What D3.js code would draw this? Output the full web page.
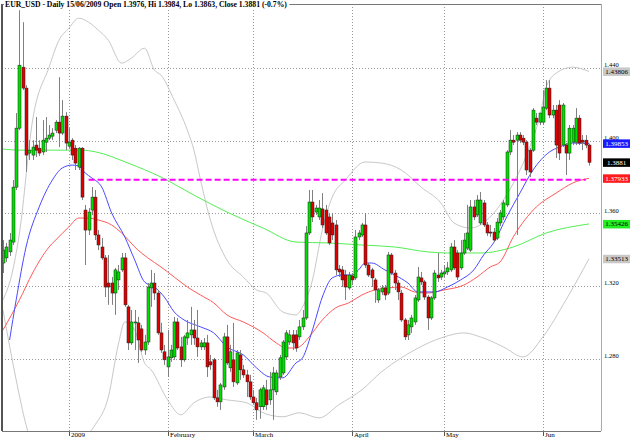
<!DOCTYPE html>
<html><head><meta charset="utf-8">
<script src="https://cdn.jsdelivr.net/npm/d3@7"></script>
<style>body{margin:0;background:#fff}svg{display:block}</style>
</head><body><svg id="c" width="632" height="438"></svg>
<script>
const opens=[1.3328,1.3356,1.3389,1.3443,1.3745,1.4069,1.4404,1.4289,1.3932,1.3921,1.3976,1.3959,1.3938,1.3992,1.4014,1.4025,1.4058,1.4102,1.4042,1.4135,1.3970,1.4003,1.3959,1.3855,1.3959,1.3619,1.3509,1.3619,1.3690,1.3482,1.3416,1.3356,1.3218,1.3218,1.3163,1.3235,1.3290,1.3356,1.3087,1.2889,1.2999,1.2999,1.2966,1.2850,1.2894,1.3191,1.3218,1.3163,1.2944,1.2840,1.2757,1.2807,1.2812,1.3004,1.2867,1.2796,1.2916,1.2933,1.2960,1.2916,1.2867,1.2867,1.2889,1.2785,1.2796,1.2587,1.2565,1.2647,1.2922,1.2752,1.2796,1.2669,1.2823,1.2741,1.2713,1.2675,1.2592,1.2560,1.2538,1.2538,1.2631,1.2576,1.2631,1.2620,1.2702,1.2724,1.2812,1.2894,1.2933,1.2933,1.2922,1.2977,1.3026,1.3493,1.3663,1.3608,1.3581,1.3625,1.3619,1.3581,1.3548,1.3537,1.3295,1.3290,1.3262,1.3191,1.3257,1.3246,1.3471,1.3482,1.3537,1.3317,1.3290,1.3235,1.3125,1.3169,1.3191,1.3163,1.3372,1.3273,1.3218,1.3163,1.3015,1.2933,1.2977,1.3004,1.3125,1.3246,1.3224,1.3141,1.3026,1.3136,1.3262,1.3251,1.3268,1.3279,1.3290,1.3416,1.3383,1.3301,1.3383,1.3410,1.3399,1.3636,1.3592,1.3548,1.3658,1.3537,1.3498,1.3498,1.3465,1.3548,1.3581,1.3647,1.3938,1.4003,1.4003,1.4031,1.4014,1.3992,1.3948,1.3948,1.4124,1.4102,1.4102,1.4179,1.4289,1.4141,1.4168,1.4196,1.3976,1.3976,1.3932,1.3992,1.3992,1.4124,1.4003,1.4003,1.3976];
const highs=[1.3454,1.3438,1.3493,1.3784,1.4152,1.4717,1.4651,1.4305,1.4003,1.4003,1.4130,1.4003,1.4113,1.4130,1.4086,1.4069,1.4113,1.4349,1.4223,1.4157,1.4069,1.4014,1.3976,1.3965,1.3965,1.3647,1.3630,1.3745,1.3729,1.3509,1.3465,1.3372,1.3372,1.3251,1.3301,1.3317,1.3383,1.3383,1.3098,1.3070,1.3070,1.3032,1.2988,1.2933,1.3218,1.3290,1.3273,1.3180,1.2999,1.2878,1.2960,1.2878,1.3032,1.3026,1.2922,1.2933,1.3015,1.3087,1.3015,1.3070,1.2905,1.2916,1.2933,1.2823,1.2807,1.2631,1.2669,1.2944,1.2988,1.2878,1.2999,1.2850,1.2850,1.2768,1.2741,1.2713,1.2631,1.2587,1.2642,1.2658,1.2686,1.2730,1.2757,1.2741,1.2823,1.2905,1.2960,1.2960,1.2960,1.2960,1.3015,1.3070,1.3531,1.3729,1.3729,1.3647,1.3674,1.3712,1.3647,1.3603,1.3603,1.3564,1.3317,1.3312,1.3290,1.3279,1.3273,1.3509,1.3509,1.3548,1.3603,1.3328,1.3301,1.3246,1.3191,1.3207,1.3207,1.3389,1.3383,1.3290,1.3235,1.3180,1.3026,1.3015,1.3043,1.3152,1.3306,1.3279,1.3235,1.3152,1.3147,1.3290,1.3383,1.3290,1.3317,1.3334,1.3438,1.3454,1.3399,1.3454,1.3493,1.3647,1.3674,1.3674,1.3701,1.3718,1.3674,1.3553,1.3537,1.3520,1.3575,1.3619,1.3674,1.3948,1.4058,1.4031,1.4047,1.4047,1.4031,1.4003,1.3959,1.4179,1.4152,1.4152,1.4278,1.4333,1.4333,1.4196,1.4196,1.4223,1.4207,1.3987,1.4086,1.4086,1.4179,1.4141,1.4031,1.4031,1.3984];
const lows=[1.3273,1.3334,1.3367,1.3427,1.3729,1.4058,1.4278,1.3828,1.3894,1.3894,1.3910,1.3916,1.3921,1.3938,1.4003,1.4003,1.4042,1.3965,1.4031,1.3948,1.3959,1.3894,1.3839,1.3839,1.3674,1.3317,1.3482,1.3592,1.3454,1.3399,1.3345,1.3141,1.3098,1.3098,1.3043,1.3180,1.3279,1.3087,1.2850,1.2878,1.2850,1.2779,1.2840,1.2823,1.2878,1.3087,1.3125,1.2933,1.2834,1.2768,1.2702,1.2785,1.2796,1.2850,1.2757,1.2785,1.2878,1.2878,1.2878,1.2812,1.2850,1.2850,1.2702,1.2741,1.2576,1.2538,1.2521,1.2631,1.2768,1.2730,1.2647,1.2658,1.2686,1.2697,1.2592,1.2576,1.2549,1.2466,1.2472,1.2521,1.2521,1.2549,1.2466,1.2603,1.2686,1.2713,1.2796,1.2878,1.2850,1.2840,1.2905,1.2960,1.3015,1.3482,1.3553,1.3592,1.3564,1.3520,1.3482,1.3427,1.3454,1.3262,1.3251,1.3196,1.3125,1.3180,1.3207,1.3235,1.3454,1.3471,1.3301,1.3251,1.3196,1.3109,1.3109,1.3152,1.3125,1.3152,1.3262,1.3180,1.3125,1.3004,1.2905,1.2905,1.2944,1.2988,1.3114,1.3207,1.3125,1.2960,1.3015,1.3125,1.3224,1.3235,1.3251,1.3262,1.3279,1.3290,1.3235,1.3290,1.3372,1.3399,1.3389,1.3564,1.3581,1.3537,1.3526,1.3476,1.3471,1.3443,1.3454,1.3531,1.3564,1.3636,1.3921,1.3976,1.3482,1.3987,1.3976,1.3811,1.3800,1.3938,1.4086,1.4086,1.4086,1.4168,1.4124,1.4124,1.3905,1.3894,1.3965,1.3811,1.3894,1.3976,1.3976,1.3976,1.3948,1.3959,1.3863];
const closes=[1.3399,1.3416,1.3454,1.3745,1.4069,1.4415,1.4289,1.3921,1.3948,1.3965,1.3948,1.3932,1.4003,1.4014,1.4031,1.4042,1.4102,1.4042,1.4135,1.3987,1.3992,1.3921,1.3877,1.3959,1.3690,1.3509,1.3608,1.3690,1.3482,1.3427,1.3356,1.3196,1.3196,1.3163,1.3290,1.3279,1.3356,1.3098,1.2889,1.3004,1.3004,1.2905,1.2850,1.2894,1.3196,1.3218,1.3163,1.2944,1.2850,1.2796,1.2812,1.2850,1.3004,1.2861,1.2796,1.2922,1.2944,1.2960,1.2916,1.2867,1.2889,1.2889,1.2757,1.2768,1.2587,1.2565,1.2658,1.2922,1.2779,1.2840,1.2675,1.2834,1.2741,1.2713,1.2675,1.2592,1.2560,1.2521,1.2631,1.2642,1.2549,1.2631,1.2724,1.2724,1.2807,1.2894,1.2944,1.2933,1.2889,1.2861,1.2977,1.3026,1.3493,1.3663,1.3581,1.3630,1.3630,1.3537,1.3493,1.3438,1.3482,1.3290,1.3279,1.3235,1.3196,1.3262,1.3235,1.3471,1.3493,1.3537,1.3317,1.3262,1.3246,1.3180,1.3180,1.3191,1.3152,1.3372,1.3273,1.3218,1.3169,1.3015,1.2922,1.2988,1.3026,1.3136,1.3251,1.3224,1.3141,1.3026,1.3136,1.3273,1.3246,1.3273,1.3279,1.3301,1.3416,1.3301,1.3251,1.3383,1.3454,1.3493,1.3636,1.3581,1.3674,1.3674,1.3537,1.3493,1.3493,1.3454,1.3553,1.3603,1.3658,1.3938,1.4003,1.3992,1.4031,1.4003,1.3992,1.3839,1.3828,1.4168,1.4102,1.4152,1.4185,1.4289,1.4141,1.4168,1.3976,1.3932,1.4196,1.3932,1.4069,1.4069,1.4124,1.3987,1.3992,1.3976,1.3881];

const monthLabels=["2009","February","March","April","May","Jun"];
const monthIndex=[20,50,76,106,134,164];
const priceTicks=[1.280,1.320,1.360,1.400,1.440];

// indicator lines: [bar index, value]
const maFast=[[2,1.2905],[4,1.3125],[7,1.3416],[11,1.3636],[15,1.3784],[18,1.3850],[21,1.3866],[23,1.3861],[25,1.3822],[27,1.3795],[30,1.3745],[33,1.3603],[37,1.3471],[40,1.3345],[43,1.3224],[46,1.3196],[49,1.3141],[52,1.3059],[55,1.3015],[60,1.2977],[64,1.2944],[68,1.2867],[73,1.2823],[77,1.2752],[81,1.2702],[85,1.2697],[89,1.2779],[91,1.2807],[94,1.2960],[97,1.3141],[100,1.3246],[103,1.3262],[106,1.3262],[108,1.3290],[110,1.3328],[112,1.3328],[116,1.3290],[119,1.3262],[123,1.3218],[126,1.3169],[131,1.3169],[135,1.3196],[139,1.3235],[143,1.3290],[146,1.3372],[149,1.3438],[153,1.3581],[157,1.3712],[161,1.3839],[166,1.3938],[169,1.3965],[173,1.3987],[178,1.39853]];
const maMid=[[0,1.2960],[5,1.3125],[9,1.3273],[14,1.3416],[16,1.3454],[20,1.3526],[23,1.3575],[26,1.3575],[29,1.3564],[33,1.3537],[36,1.3493],[41,1.3399],[44,1.3356],[48,1.3306],[52,1.3251],[56,1.3196],[60,1.3152],[64,1.3109],[68,1.3043],[73,1.3004],[76,1.2977],[79,1.2944],[83,1.2889],[86,1.2861],[89,1.2861],[90,1.2867],[93,1.2922],[97,1.3015],[101,1.3081],[105,1.3109],[109,1.3152],[113,1.3180],[117,1.3191],[121,1.3196],[125,1.3169],[129,1.3163],[134,1.3180],[140,1.3207],[144,1.3251],[148,1.3306],[151,1.3334],[155,1.3471],[162,1.3636],[168,1.3712],[173,1.3767],[178,1.37933]];
const maSlow=[[0,1.3954],[5,1.3948],[14,1.3948],[24,1.3948],[28,1.3939],[38,1.3877],[48,1.3800],[58,1.3701],[68,1.3608],[79,1.3520],[89,1.3443],[99,1.3438],[109,1.3427],[119,1.3416],[129,1.3389],[135,1.3383],[145,1.3383],[155,1.3416],[165,1.3493],[178,1.35426]];
const bbUpper=[[0,1.3125],[3,1.3290],[5,1.3493],[9,1.4113],[14,1.4404],[17,1.4552],[20,1.4618],[23,1.4673],[26,1.4651],[29,1.4607],[32,1.4552],[36,1.4426],[39,1.4454],[43,1.4508],[46,1.4388],[48,1.4360],[52,1.4223],[56,1.4058],[58,1.3948],[60,1.3784],[63,1.3564],[68,1.3345],[73,1.3251],[77,1.3180],[80,1.3163],[85,1.3059],[89,1.3043],[91,1.3087],[94,1.3235],[97,1.3509],[100,1.3690],[104,1.3784],[110,1.3883],[115,1.3877],[121,1.3839],[127,1.3745],[133,1.3658],[137,1.3548],[142,1.3520],[147,1.3564],[152,1.3674],[156,1.3800],[160,1.3965],[163,1.4130],[165,1.4294],[168,1.4371],[173,1.4404],[178,1.43806]];
const bbLower=[[0,1.3070],[4,1.2686],[7,1.2439],[11,1.2247],[17,1.2302],[24,1.2356],[28,1.2439],[32,1.2592],[35,1.2878],[37,1.3004],[40,1.2960],[43,1.2779],[45,1.2741],[50,1.2576],[54,1.2494],[58,1.2560],[63,1.2592],[68,1.2576],[74,1.2560],[79,1.2505],[85,1.2483],[90,1.2505],[96,1.2477],[102,1.2549],[109,1.2631],[115,1.2730],[121,1.2807],[125,1.2850],[134,1.2922],[140,1.2944],[145,1.2922],[152,1.2867],[158,1.2812],[164,1.2922],[171,1.3125],[178,1.33513]];
const levelValue=1.3785, levelFrom=26, levelTo=177;

const lastLabels=[
  {v:1.43806,t:"1.43806",bg:"#c8c8c8",fg:"#000"},
  {v:1.39853,t:"1.39853",bg:"#1a1aff",fg:"#fff"},
  {v:1.3881,t:"1.3881",bg:"#000",fg:"#fff"},
  {v:1.37933,t:"1.37933",bg:"#ff1a1a",fg:"#fff"},
  {v:1.35426,t:"1.35426",bg:"#22ee22",fg:"#000"},
  {v:1.33513,t:"1.33513",bg:"#c8c8c8",fg:"#000"}
];

const svg=d3.select("#c");
const P={l:2,r:601,t:4,b:431};
const N=closes.length;
const x=d3.scaleLinear().domain([0,N-1]).range([3,589]);
const y=d3.scaleLinear().domain([1.28,1.44]).range([359.1,67.9]);

svg.append("defs").append("clipPath").attr("id","clip").append("rect")
  .attr("x",P.l).attr("y",P.t).attr("width",P.r-P.l).attr("height",P.b-P.t);

// grid
const g=svg.append("g");
g.selectAll(".hg").data(priceTicks).join("line")
  .attr("x1",P.l).attr("x2",P.r).attr("y1",d=>Math.round(y(d))+0.5).attr("y2",d=>Math.round(y(d))+0.5)
  .attr("stroke","#999").attr("stroke-dasharray","1,2");
g.selectAll(".vg").data(monthIndex).join("line")
  .attr("x1",d=>Math.round(x(d))+0.5).attr("x2",d=>Math.round(x(d))+0.5).attr("y1",P.t).attr("y2",P.b)
  .attr("stroke","#999").attr("stroke-dasharray","1,2");

const plot=svg.append("g").attr("clip-path","url(#clip)");
const line=d3.line().x(d=>x(d[0])).y(d=>y(d[1])).curve(d3.curveMonotoneX);
plot.append("path").attr("d",line(bbUpper)).attr("fill","none").attr("stroke","#c8c8c8").attr("stroke-width",1);
plot.append("path").attr("d",line(bbLower)).attr("fill","none").attr("stroke","#c8c8c8").attr("stroke-width",1);
plot.append("path").attr("d",line(maSlow)).attr("fill","none").attr("stroke","#55ee55").attr("stroke-width",1);
plot.append("path").attr("d",line(maMid)).attr("fill","none").attr("stroke","#ff5a5a").attr("stroke-width",1);
plot.append("path").attr("d",line(maFast)).attr("fill","none").attr("stroke","#4a4aff").attr("stroke-width",1);

// candles
const idx=d3.range(N);
plot.selectAll(".wick").data(idx).join("line")
  .attr("x1",i=>Math.round(x(i))+0.5).attr("x2",i=>Math.round(x(i))+0.5)
  .attr("y1",i=>y(highs[i])).attr("y2",i=>y(lows[i]))
  .attr("stroke","#808080").attr("stroke-width",1);
plot.selectAll(".body").data(idx).join("rect")
  .attr("x",i=>Math.round(x(i))-1)
  .attr("width",3)
  .attr("y",i=>y(Math.max(opens[i],closes[i])))
  .attr("height",i=>Math.max(1,Math.abs(y(opens[i])-y(closes[i]))))
  .attr("fill",i=>closes[i]>=opens[i]?"#00e000":"#e00000")
  .attr("stroke","#222").attr("stroke-width",0.5);

// level line
plot.append("line").attr("x1",x(levelFrom)).attr("x2",x(levelTo))
  .attr("y1",y(levelValue)).attr("y2",y(levelValue))
  .attr("stroke","#ff00ff").attr("stroke-width",2).attr("stroke-dasharray","6,3");

// frame
svg.append("line").attr("x1",P.l).attr("x2",P.l).attr("y1",P.t).attr("y2",P.b).attr("stroke","#555").attr("stroke-width",2);
svg.append("line").attr("x1",P.l).attr("x2",P.r).attr("y1",P.b+0.5).attr("y2",P.b+0.5).attr("stroke","#777");
svg.append("line").attr("x1",P.r+0.5).attr("x2",P.r+0.5).attr("y1",P.t).attr("y2",P.b).attr("stroke","#aaa");
svg.append("line").attr("x1",P.l).attr("x2",P.r).attr("y1",P.t+0.5).attr("y2",P.t+0.5).attr("stroke","#777");

// title
const title=svg.append("text").attr("x",5).attr("y",7).attr("font-family","Liberation Serif, serif")
  .attr("font-size",7.7).attr("font-weight","bold").attr("fill","#000")
  .text("EUR_USD - Daily 15/06/2009 Open 1.3976, Hi 1.3984, Lo 1.3863, Close 1.3881 (-0.7%)");
const bb=title.node().getBBox();
svg.insert("rect","text").attr("x",4).attr("y",0).attr("width",bb.width+3).attr("height",9).attr("fill","#fff");

// y tick labels (sit just above their grid line, as in the picture)
svg.selectAll(".yt").data(priceTicks).join("text")
  .attr("x",604).attr("y",d=>y(d)-1).attr("font-family","Liberation Serif, serif").attr("font-size",6.5)
  .attr("fill","#000").text(d=>d.toFixed(3));

// last value labels
const lg=svg.selectAll(".lv").data(lastLabels).join("g");
lg.append("rect").attr("x",603).attr("y",d=>y(d.v)-4).attr("width",27).attr("height",8.5).attr("fill",d=>d.bg);
lg.append("text").attr("x",616.5).attr("y",d=>y(d.v)+2.5).attr("text-anchor","middle")
  .attr("font-family","Liberation Serif, serif").attr("font-size",7).attr("fill",d=>d.fg).text(d=>d.t);

// x month labels
const mg=svg.selectAll(".mt").data(monthIndex).join("g");
mg.append("line").attr("x1",i=>Math.round(x(i))+0.5).attr("x2",i=>Math.round(x(i))+0.5).attr("y1",P.b+1).attr("y2",P.b+5).attr("stroke","#555");
mg.append("text").attr("x",i=>Math.round(x(i))+2).attr("y",437).attr("font-family","Liberation Serif, serif")
  .attr("font-size",7).attr("fill","#000").text((i,k)=>monthLabels[k]);
</script></body></html>
